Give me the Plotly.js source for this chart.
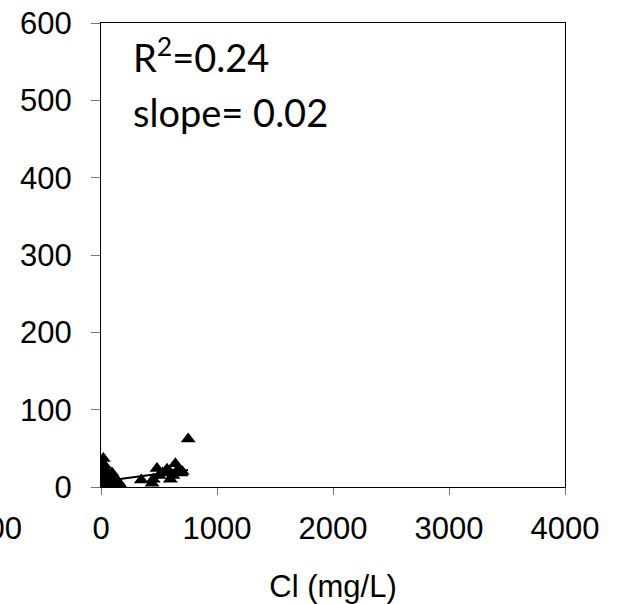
<!DOCTYPE html>
<html>
<head>
<meta charset="utf-8">
<script src="https://cdn.plot.ly/plotly-3.0.1.min.js"></script>
<style>html,body{margin:0;padding:0;background:#fff;}#chart{width:621px;height:604px;}</style>
</head>
<body>
<div id="chart"></div>
<script>
// Cl (mg/L) vs value
var clX = [20, 15, 10, 30, 5, 25, 8, 40, 12, 50, 60, 95, 80, 70, 100, 120, 150, 165, 30, 5, 45, 110, 130, 20, 60, 85, 140,
           347, 440, 450, 483, 500, 530, 569, 590, 598, 620, 641, 660, 690, 700, 752];
var valY = [37, 30, 25, 28, 20, 15, 10, 12, 5, 20, 8, 18, 12, 5, 3, 10, 6, 3, 2, 1, 4, 14, 8, 22, 15, 2, 2,
            9, 5, 10, 24, 15, 18, 23, 20, 10, 15, 30, 22, 18, 20, 62];
// regression line endpoints
var fitX = [0, 750];
var fitY = [7, 22];
var xTicks = [0, 1000, 2000, 3000, 4000];
var yTicks = [0, 100, 200, 300, 400, 500, 600];
var statsText = ["R<sup>2</sup>=0.24", "slope= 0.02"];
var xTitle = "Cl (mg/L)";
var neighbourLabel = "4000";

var axisFont = {family: "Liberation Sans, Arial, sans-serif", size: 31, color: "#000"};
var noteFont = {family: "Lato, Carlito, sans-serif", size: 38, color: "#000"};

var traces = [
  {x: fitX, y: fitY, mode: "lines", line: {color: "#000", width: 2}, hoverinfo: "skip", showlegend: false},
  {x: clX, y: valY, mode: "markers", marker: {symbol: "triangle-up", size: 13, color: "#000"}, showlegend: false}
];

var layout = {
  width: 621, height: 604,
  margin: {l: 101, r: 56, t: 23, b: 117},
  paper_bgcolor: "#fff", plot_bgcolor: "#fff",
  showlegend: false,
  xaxis: {
    range: [0, 4000], tickvals: xTicks, ticktext: xTicks.map(String),
    ticks: "outside", ticklen: 7, tickcolor: "#777", tickwidth: 1,
    ticklabelstandoff: 7,
    showline: true, linecolor: "#000", linewidth: 1, mirror: true,
    showgrid: false, zeroline: false, tickfont: axisFont,
    title: {text: xTitle, font: axisFont, standoff: 34}
  },
  yaxis: {
    range: [0, 600], tickvals: yTicks, ticktext: yTicks.map(String),
    ticks: "outside", ticklen: 9, tickcolor: "#777", tickwidth: 1,
    ticklabelstandoff: 13,
    showline: true, linecolor: "#000", linewidth: 1, mirror: true,
    showgrid: false, zeroline: false, tickfont: axisFont
  },
  annotations: [
    {xref: "paper", yref: "paper", x: 0.064, y: 0.931, xanchor: "left", yanchor: "middle", text: statsText[0], showarrow: false, font: noteFont},
    {xref: "paper", yref: "paper", x: 0.064, y: 0.808, xanchor: "left", yanchor: "middle", text: statsText[1], showarrow: false, font: noteFont},
    {xref: "paper", yref: "paper", x: -0.245, y: -0.0905, xanchor: "center", yanchor: "middle", text: neighbourLabel, showarrow: false, font: axisFont}
  ]
};

Plotly.newPlot("chart", traces, layout, {displayModeBar: false, staticPlot: true});
</script>
</body>
</html>
